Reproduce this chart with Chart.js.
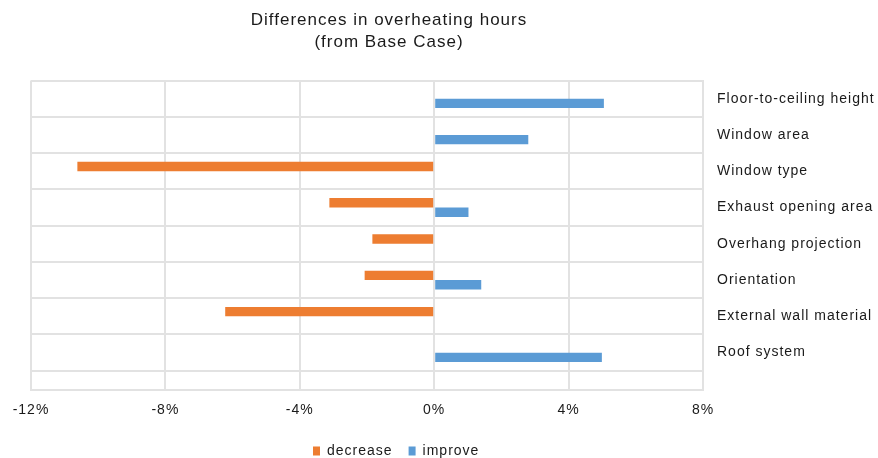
<!DOCTYPE html>
<html>
<head>
<meta charset="utf-8">
<style>
  html, body { margin: 0; padding: 0; background: #ffffff; }
  canvas { display: block; }
</style>
<script src="https://cdn.jsdelivr.net/npm/chart.js@4/dist/chart.umd.min.js"></script>
</head>
<body>
<canvas id="c" width="878" height="458"></canvas>
<script>
// ---- data ----
const categories = [
  'Floor-to-ceiling height',
  'Window area',
  'Window type',
  'Exhaust opening area',
  'Overhang projection',
  'Orientation',
  'External wall material',
  'Roof system'
];
const decreaseValues = [null, null, -10.62, -3.12, -1.84, -2.07, -6.22, null];
const improveValues  = [5.05, 2.80, null, 1.02, null, 1.40, null, 4.99];
const xTickValues = [-12, -8, -4, 0, 4, 8];
const titleLines = ['Differences in overheating hours', '(from Base Case)'];
const seriesNames = ['decrease', 'improve'];

// ---- style ----
const ORANGE = '#ED7D31';
const BLUE = '#5B9BD5';
const GRID = '#e2e2e2';
const TEXT = '#1a1a1a';
const FONT = "'Liberation Sans', Arial, Helvetica, sans-serif";

const trackingPlugin = {
  id: 'tracking',
  beforeUpdate(chart) { chart.ctx.letterSpacing = '1px'; },
  beforeDraw(chart) { chart.ctx.letterSpacing = '1px'; },
  afterLayout(chart) {
    // centre title and legend like the original
    const t = chart.titleBlock;
    if (t) {
      const dx = 389 - (t.left + t.right) / 2;
      t.left += dx; t.right += dx;
    }
    const l = chart.legend;
    if (l) {
      const pad = l.options.labels.padding;
      const lw = l.lineWidths ? l.lineWidths[0] : 0;
      const startX = (l.left + pad + l.right - lw) / 2;
      const dx = 313 - startX;
      l.left += dx; l.right += dx;
      l.top += 10; l.bottom += 10;
    }
  }
};

new Chart(document.getElementById('c'), {
  type: 'bar',
  data: {
    labels: categories,
    datasets: [
      { label: seriesNames[0], data: decreaseValues, backgroundColor: ORANGE, borderWidth: 0,
        categoryPercentage: 0.52, barPercentage: 1.0 },
      { label: seriesNames[1], data: improveValues, backgroundColor: BLUE, borderWidth: 0,
        categoryPercentage: 0.52, barPercentage: 1.0 }
    ]
  },
  options: {
    indexAxis: 'y',
    responsive: false,
    animation: false,
    devicePixelRatio: 1,
    layout: { padding: { left: 31, right: 2, top: 0, bottom: 0 } },
    plugins: {
      title: {
        display: true,
        text: titleLines,
        color: TEXT,
        font: { family: FONT, size: 17, weight: 'normal', lineHeight: 1.25 },
        padding: { top: 10, bottom: 28 }
      },
      legend: {
        display: true,
        position: 'bottom',
        labels: {
          color: TEXT,
          font: { family: FONT, size: 14 },
          boxWidth: 7,
          boxHeight: 9,
          padding: 16
        }
      },
      tooltip: { enabled: false }
    },
    scales: {
      x: {
        type: 'linear',
        min: xTickValues[0],
        max: xTickValues[xTickValues.length - 1],
        afterBuildTicks(scale) {
          scale.ticks = xTickValues.map(v => ({ value: v }));
        },
        afterFit(scale) { scale.height = 28; },
        ticks: {
          color: TEXT,
          font: { family: FONT, size: 14 },
          padding: 12,
          callback: v => v + '%'
        },
        grid: { color: GRID, lineWidth: 2, drawTicks: false },
        border: { color: GRID, width: 2 }
      },
      y: {
        position: 'right',
        afterBuildTicks(scale) {
          // extra empty space below the last category, as in the original
          scale._valueRange = 8.53;
        },
        afterFit(scale) { scale.width = 173; },
        ticks: {
          color: TEXT,
          font: { family: FONT, size: 14 },
          padding: 14
        },
        grid: { color: GRID, lineWidth: 2, drawTicks: false, offset: true },
        border: { color: GRID, width: 2 }
      }
    }
  },
  plugins: [trackingPlugin]
});
</script>
</body>
</html>
